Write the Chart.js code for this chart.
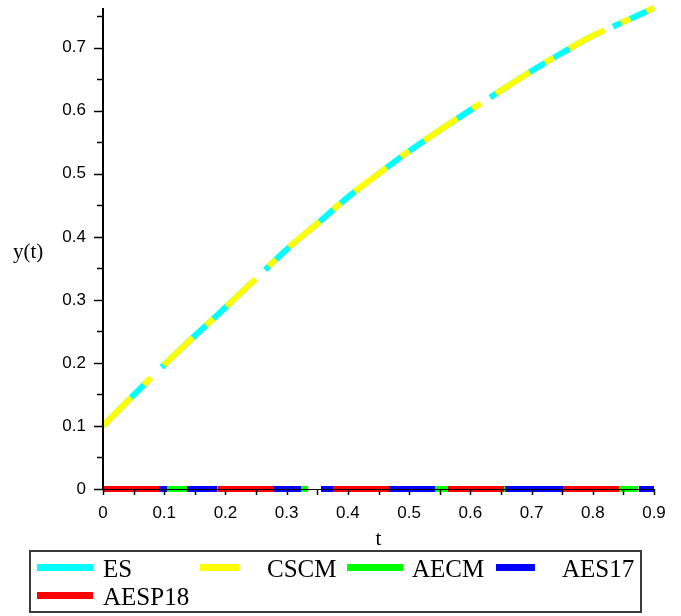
<!DOCTYPE html>
<html>
<head>
<meta charset="utf-8">
<script src="https://cdn.jsdelivr.net/npm/chart.js@4"></script>
<style>
  body { margin: 0; background: #fff; }
  #wrap { position: relative; width: 681px; height: 616px; }
  #legend {
    position: absolute; left: 29px; top: 550px; width: 609px; height: 59px;
    border: 2px solid #3a3a3a;
    font-family: "Liberation Serif", "Times New Roman", serif; font-size: 25px; color: #000;
  }
  .swatch { position: absolute; height: 7px; }
  .lab { position: absolute; line-height: 25px; white-space: nowrap; }
</style>
</head>
<body>
<div id="wrap">
  <canvas id="plot" width="681" height="616"></canvas>
  <div id="legend"></div>
</div>
<script>
// valeurs
const tValues = [0, 0.05, 0.1, 0.15, 0.2, 0.25, 0.3, 0.35, 0.4, 0.45, 0.5, 0.55, 0.6, 0.65, 0.7, 0.75, 0.8, 0.85, 0.9];
const esValues = [0.100, 0.149, 0.197, 0.243, 0.288, 0.334, 0.380, 0.421, 0.463, 0.500, 0.536, 0.569, 0.601, 0.632, 0.663, 0.692, 0.719, 0.741, 0.763];
const cscmValues = [0.100, 0.149, 0.197, 0.243, 0.288, 0.334, 0.380, 0.421, 0.463, 0.500, 0.536, 0.569, 0.601, 0.632, 0.663, 0.692, 0.719, 0.741, 0.763];
const aecmValues = [0, 0, 0, 0, 0, 0, 0, 0, 0, 0, 0, 0, 0, 0, 0, 0, 0, 0, 0];
const aes17Values = [0, 0, 0, 0, 0, 0, 0, 0, 0, 0, 0, 0, 0, 0, 0, 0, 0, 0, 0];
const aesp18Values = [0, 0, 0, 0, 0, 0, 0, 0, 0, 0, 0, 0, 0, 0, 0, 0, 0, 0, 0];
const seriesNames = ['ES', 'CSCM', 'AECM', 'AES17', 'AESP18'];
const xTickLabels = ['0', '0.1', '0.2', '0.3', '0.4', '0.5', '0.6', '0.7', '0.8', '0.9'];
const yTickLabels = ['0', '0.1', '0.2', '0.3', '0.4', '0.5', '0.6', '0.7'];
const xMax = 0.9;
const yMax = 0.763;

const toPoints = vals => vals.map((v, i) => ({ x: tValues[i], y: v }));

function serie(label, vals, color, dash, offset, order) {
    return {
        label: label,
        data: toPoints(vals),
        borderColor: color,
        backgroundColor: color,
        borderWidth: 6,
        borderDash: dash,
        borderDashOffset: offset,
        borderCapStyle: 'butt',
        pointRadius: 0,
        cubicInterpolationMode: 'monotone',
        clip: false,
        order: order // le dernier de la liste est dessiné au-dessus
    };
}

const datasets = [
    serie(seriesNames[0], esValues, '#00ffff', [125, 17], 59, 5),
    serie(seriesNames[1], cscmValues, '#ffff00', [40, 18, 10, 18], 0, 4),
    serie(seriesNames[2], aecmValues, '#00ff00', [40, 15], 0, 3),
    serie(seriesNames[3], aes17Values, '#0000ff', [64, 20, 30, 20], 0, 2),
    serie(seriesNames[4], aesp18Values, '#ff0000', [56, 59], 0, 1)
];

// axes à la Maple : traits, graduations et titres par-dessus les courbes
const mapleAxes = {
    id: 'mapleAxes',
    afterDatasetsDraw(chart) {
        const ctx = chart.ctx;
        const x = chart.scales.x, y = chart.scales.y;
        const x0 = x.getPixelForValue(0), y0 = y.getPixelForValue(0);
        const x1 = x.getPixelForValue(xMax), yTop = y.getPixelForValue(yMax);
        ctx.save();
        ctx.strokeStyle = '#000';
        ctx.lineWidth = 2;
        ctx.beginPath();
        ctx.moveTo(x0, yTop);
        ctx.lineTo(x0, y0 + 1);
        ctx.stroke();
        ctx.lineWidth = 1;
        ctx.beginPath();
        ctx.moveTo(x0, y0 + 0.5);
        ctx.lineTo(x1, y0 + 0.5);
        ctx.stroke();
        // graduations x (majeures et mineures)
        ctx.lineWidth = 1.5;
        for (let k = 0; k <= 18; k++) {
            const px = Math.round(x.getPixelForValue(k * 0.05)) + 0.5;
            ctx.beginPath();
            ctx.moveTo(px, y0);
            ctx.lineTo(px, y0 + 6);
            ctx.stroke();
        }
        // graduations y
        for (let k = 0; k <= 15; k++) {
            const py = Math.round(y.getPixelForValue(k * 0.05)) + 0.5;
            const len = k % 2 === 0 ? 9 : 6;
            ctx.beginPath();
            ctx.moveTo(x0 - len, py);
            ctx.lineTo(x0, py);
            ctx.stroke();
        }
        ctx.fillStyle = '#000';
        ctx.font = '21px "Liberation Serif", serif';
        ctx.textBaseline = 'middle';
        ctx.textAlign = 'left';
        ctx.fillText('y(t)', 13, 252);
        ctx.textAlign = 'center';
        ctx.fillText('t', (x0 + x1) / 2, 539);
        ctx.restore();
    }
};

const tickFont = { family: '"Liberation Sans", Arial, sans-serif', size: 17 };

const chart = new Chart(document.getElementById('plot'), {
    type: 'line',
    data: { datasets: datasets },
    options: {
        responsive: false,
        animation: false,
        layout: { padding: { left: 0, right: 27, top: 8, bottom: 87 } },
        plugins: { legend: { display: false }, tooltip: { enabled: false } },
        scales: {
            x: {
                type: 'linear', min: 0, max: xMax,
                grid: { display: false, drawTicks: false },
                border: { display: false },
                ticks: {
                    stepSize: 0.1, autoSkip: false, maxRotation: 0, padding: 14,
                    color: '#000', font: tickFont,
                    callback: (v) => xTickLabels[Math.round(v * 10)] ?? ''
                },
                afterFit: (s) => { s.height = 40; s.paddingLeft = 0; s.paddingRight = 0; }
            },
            y: {
                type: 'linear', min: 0, max: yMax,
                grid: { display: false, drawTicks: false },
                border: { display: false },
                ticks: {
                    stepSize: 0.1, includeBounds: false, padding: 17,
                    color: '#000', font: tickFont,
                    callback: (v) => yTickLabels[Math.round(v * 10)] ?? ''
                },
                afterFit: (s) => { s.width = 103; s.paddingTop = 0; s.paddingBottom = 0; }
            }
        }
    },
    plugins: [mapleAxes]
});

// légende encadrée en bas (positions de la figure Maple)
const legendSlots = [
    { sx: 6, sw: 56, tx: 72, row: 0 },
    { sx: 169, sw: 39, tx: 236, row: 0 },
    { sx: 316, sw: 56, tx: 381, row: 0 },
    { sx: 465, sw: 39, tx: 531, row: 0 },
    { sx: 6, sw: 56, tx: 72, row: 1 }
];
const legend = document.getElementById('legend');
datasets.forEach((ds, i) => {
    const slot = legendSlots[i];
    const sw = document.createElement('div');
    sw.className = 'swatch';
    sw.style.left = slot.sx + 'px';
    sw.style.width = slot.sw + 'px';
    sw.style.top = (12 + slot.row * 28) + 'px';
    sw.style.background = ds.borderColor;
    legend.appendChild(sw);
    const lab = document.createElement('div');
    lab.className = 'lab';
    lab.style.left = slot.tx + 'px';
    lab.style.top = (4 + slot.row * 28) + 'px';
    lab.textContent = ds.label;
    legend.appendChild(lab);
});
</script>
</body>
</html>
